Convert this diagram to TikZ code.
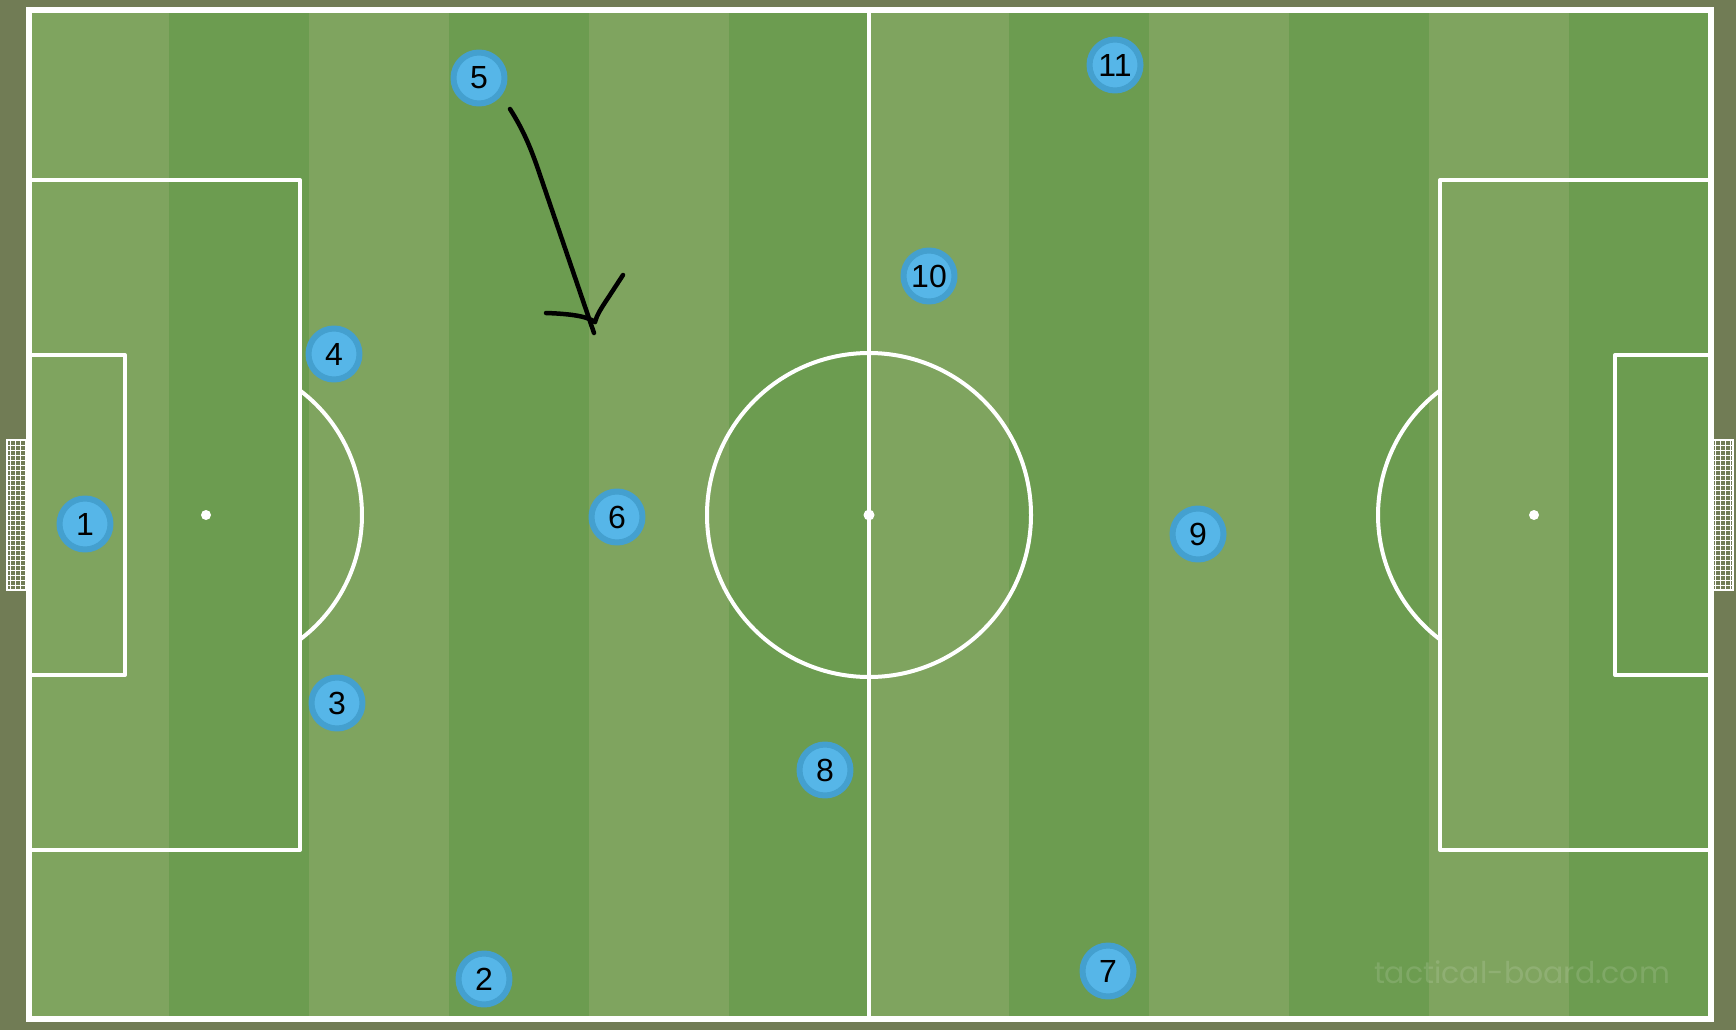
\documentclass[tikz,border=0pt]{standalone}
\usepackage{xcolor}
\usepackage{tikz}
\usepackage{fontspec}
\setmainfont{Liberation Sans}
\newfontfamily\markfont{Poppins}
\usetikzlibrary{calc}
\definecolor{ttuuqq}{rgb}{0.44313725490196076,0.48627450980392156,0.3333333333333333}
\definecolor{zzxxqq}{rgb}{0.4980392156862745,0.6431372549019608,0.37254901960784315}
\definecolor{uuzzqq}{rgb}{0.4235294117647059,0.611764705882353,0.3137254901960784}
\definecolor{qqzzcc}{rgb}{0.26666666666666666,0.6274509803921569,0.8117647058823529}
\definecolor{qqccff}{rgb}{0.33725490196078434,0.7137254901960784,0.9098039215686274}
\tikzstyle{every node}=[font=\fontsize{32}{32}\selectfont]
\tikzstyle{player}=[circle,draw=qqzzcc,fill=qqccff,line width=6pt,minimum size=51pt,inner sep=0pt,text=black]
\begin{document}
\begin{tikzpicture}[line cap=round,line join=round,x=1pt,y=-1pt]
            \useasboundingbox (0,0) rectangle (1736,1030);
            \fill[color=ttuuqq] (0,0) rectangle (1736,1030);
            \fill[color=zzxxqq] (29,10) rectangle (1711,1019);
            \fill[color=uuzzqq] (169,10) rectangle (309,1019);
            \fill[color=uuzzqq] (449,10) rectangle (589,1019);
            \fill[color=uuzzqq] (729,10) rectangle (869,1019);
            \fill[color=uuzzqq] (1009,10) rectangle (1149,1019);
            \fill[color=uuzzqq] (1289,10) rectangle (1429,1019);
            \fill[color=uuzzqq] (1569,10) rectangle (1711,1019);
            \node [anchor=base,text=white,text opacity=0.13,font=\markfont\fontsize{30}{30}\selectfont] (mark) at (1522,983) {tactical-board.com};
            \draw [line width=4pt,color=white] (869,10) -- (869,1019);
            \draw [line width=4pt,color=white] (869,515) circle (162pt);
            \draw [line width=4pt,color=white] (29,180) -- (300,180) -- (300,850) -- (29,850);
            \draw [line width=4pt,color=white] (29,355) -- (125,355) -- (125,675) -- (29,675);
            \draw [line width=4pt,color=white] (300,390.5) arc [start angle=52.94,end angle=-52.94,radius=156pt];
            \draw [line width=4pt,color=white] (1711,180) -- (1440,180) -- (1440,850) -- (1711,850);
            \draw [line width=4pt,color=white] (1711,355) -- (1615,355) -- (1615,675) -- (1711,675);
            \draw [line width=4pt,color=white] (1440,390.5) arc [start angle=127.06,end angle=232.94,radius=156pt];
            \draw [line width=6pt,color=white,line join=miter] (29,10.3) rectangle (1711,1019);
            \fill [color=white] (206,515) circle (5pt);
            \fill [color=white] (869,515) circle (5.5pt);
            \fill [color=white] (1534,515) circle (5pt);
            % goals
            \draw [line width=1pt,color=white,step=5pt] (8,441) grid (27,589);
            \draw [line width=2pt,color=white,line join=miter] (7,440) rectangle (29,590);
            \draw [line width=1pt,color=white,step=5pt] (1713,441) grid (1732,589);
            \draw [line width=2pt,color=white,line join=miter] (1711,440) rectangle (1733,590);
            % players
            \node [player] (p1) at (85,524) {1};
            \node [player] (p2) at (484,979) {2};
            \node [player] (p3) at (337,703) {3};
            \node [player] (p4) at (334,354) {4};
            \node [player] (p5) at (479,78) {5};
            \node [player] (p6) at (617,517) {6};
            \node [player] (p7) at (1108,971) {7};
            \node [player] (p8) at (825,770) {8};
            \node [player] (p9) at (1198,534) {9};
            \node [player] (p10) at (929,276) {10};
            \node [player] (p11) at (1115,65) {11};
            % run of 5
            \coordinate (runfrom) at (510,109);
            \coordinate (runto) at (594,333);
            \draw [line width=4.5pt] (runfrom) .. controls (522,128) and (530,145) .. (540,175) -- (runto);
            \draw [line width=4.5pt] (546,313) .. controls (575,314) and (588,317) .. (595,322);
            \draw [line width=4.5pt] (623,275) -- (608,298) .. controls (600,310) and (597,315) .. (595,322);
\end{tikzpicture}
\end{document}
